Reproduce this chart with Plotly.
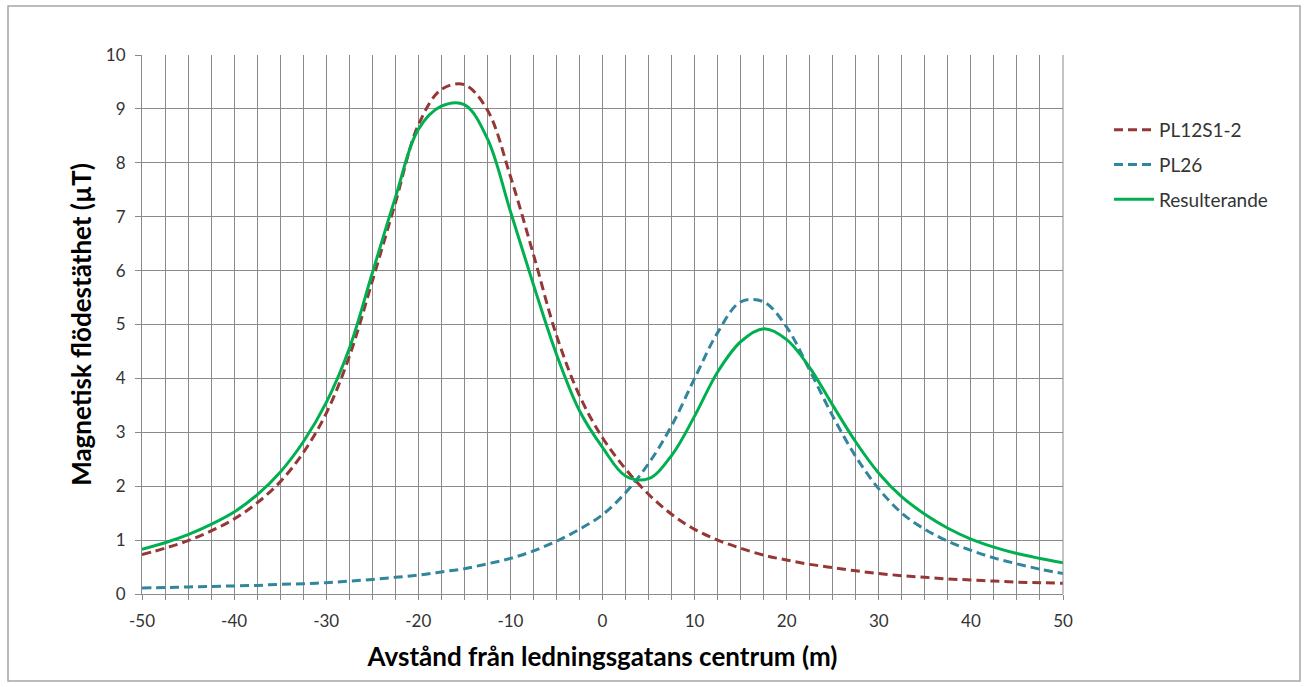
import plotly.graph_objects as go

# distance from corridor centre (m)
x_vals = [-50, -47.5, -45, -42.5, -40, -37.5, -35, -32.5, -30, -27.5, -25, -22.5,
          -20, -17.5, -15, -12.5, -10, -7.5, -5, -2.5, 0, 2.5, 5, 7.5, 10,
          12.5, 15, 17.5, 20, 22.5, 25, 27.5, 30, 32.5, 35, 37.5, 40, 42.5,
          45, 47.5, 50]

pl12s1_2 = [0.73, 0.85, 0.99, 1.17, 1.39, 1.69, 2.08, 2.62, 3.35, 4.4, 5.8, 7.25,
            8.7, 9.36, 9.45, 8.98, 7.75, 6.3, 4.8, 3.68, 2.9, 2.32, 1.85, 1.48,
            1.2, 1.0, 0.85, 0.72, 0.63, 0.55, 0.49, 0.43, 0.38, 0.34, 0.31, 0.28,
            0.26, 0.24, 0.22, 0.21, 0.2]

pl26 = [0.11, 0.12, 0.13, 0.14, 0.15, 0.16, 0.18, 0.19, 0.21, 0.24, 0.27, 0.31,
        0.35, 0.41, 0.47, 0.56, 0.66, 0.8, 0.98, 1.2, 1.47, 1.88, 2.42, 3.12,
        4.0, 4.85, 5.42, 5.42, 4.95, 4.15, 3.3, 2.55, 1.95, 1.5, 1.2, 0.98,
        0.81, 0.67, 0.56, 0.46, 0.38]

resulterande = [0.83, 0.95, 1.1, 1.29, 1.52, 1.84, 2.26, 2.82, 3.55, 4.55, 5.95, 7.35,
                8.62, 9.05, 9.08, 8.45, 7.1, 5.74, 4.45, 3.4, 2.72, 2.19, 2.14, 2.57,
                3.3, 4.12, 4.68, 4.92, 4.72, 4.2, 3.5, 2.82, 2.24, 1.8, 1.48, 1.22,
                1.02, 0.87, 0.75, 0.66, 0.58]

series_names = ["PL12S1-2", "PL26", "Resulterande"]
x_ticks = [-50, -40, -30, -20, -10, 0, 10, 20, 30, 40, 50]
y_ticks = [0, 1, 2, 3, 4, 5, 6, 7, 8, 9, 10]

FONT = "Lato, 'Open Sans', sans-serif"
GRID = "#8a8a8a"
TXT = "#333333"

fig = go.Figure()
fig.add_trace(go.Scatter(x=x_vals, y=pl12s1_2, name=series_names[0], mode="lines",
                         line=dict(color="#953735", width=3, dash="9px,5px", shape="spline", smoothing=1),
                         legendgroup="a"))
fig.add_trace(go.Scatter(x=x_vals, y=pl26, name=series_names[1], mode="lines",
                         line=dict(color="#31859c", width=3, dash="9px,5px", shape="spline", smoothing=1),
                         legendgroup="b"))
fig.add_trace(go.Scatter(x=x_vals, y=resulterande, name=series_names[2], mode="lines",
                         line=dict(color="#00b050", width=3, shape="spline", smoothing=1),
                         legendgroup="c"))

L, R, T, B = 142, 243, 55, 93
W, H = 1306, 687
pw, ph = W - L - R, H - T - B

def px_x(p):
    return (p - L) / pw

def px_y(p):
    return (H - B - p) / ph

fig.update_layout(
    width=W, height=H,
    margin=dict(l=L, r=R, t=T, b=B),
    paper_bgcolor="white", plot_bgcolor="white",
    font=dict(family=FONT, size=17, color=TXT),
    showlegend=True,
    legend=dict(x=px_x(1109), y=px_y(111), xanchor="left", yanchor="top",
                traceorder="grouped", tracegroupgap=7,
                font=dict(family=FONT, size=19, color=TXT),
                bgcolor="rgba(0,0,0,0)", itemwidth=40),
    xaxis=dict(range=[-50, 50], tickvals=x_ticks, ticktext=[str(v) for v in x_ticks],
               showgrid=True, gridcolor=GRID, gridwidth=1,
               ticks="outside", ticklen=5, tickcolor=GRID,
               ticklabelstandoff=7,
               minor=dict(dtick=2.5, tick0=0, showgrid=True, gridcolor=GRID, gridwidth=1,
                          ticks="outside", ticklen=5, tickcolor=GRID),
               showline=True, linecolor=GRID, linewidth=1, mirror=False,
               zeroline=False,
               tickfont=dict(family=FONT, size=17, color=TXT),
               title=dict(text="Avstånd från ledningsgatans centrum (m)",
                          font=dict(family=FONT, size=26, color="#000000", weight="bold"),
                          standoff=17)),
    yaxis=dict(range=[0, 10], tickvals=y_ticks, ticktext=[str(v) for v in y_ticks],
               showgrid=True, gridcolor=GRID, gridwidth=1,
               ticks="outside", ticklen=6, tickcolor=GRID,
               ticklabelstandoff=6,
               showline=True, linecolor=GRID, linewidth=1,
               zeroline=False,
               tickfont=dict(family=FONT, size=17, color=TXT),
               title=dict(text="Magnetisk flödestäthet (µT)",
                          font=dict(family=FONT, size=26, color="#000000", weight="bold"),
                          standoff=6)),
    shapes=[
        dict(type="rect", xref="paper", yref="paper",
             x0=px_x(8), x1=px_x(1300), y0=px_y(681), y1=px_y(6),
             line=dict(color="#a6a6a6", width=1.5), fillcolor="rgba(0,0,0,0)", layer="below"),
        dict(type="line", xref="paper", yref="paper", x0=1, x1=1, y0=0, y1=1,
             line=dict(color=GRID, width=1)),
    ],
)

fig.write_html("out.html", config={"displayModeBar": False},
               post_script="document.body.style.margin='0';document.body.style.overflow='hidden';")
